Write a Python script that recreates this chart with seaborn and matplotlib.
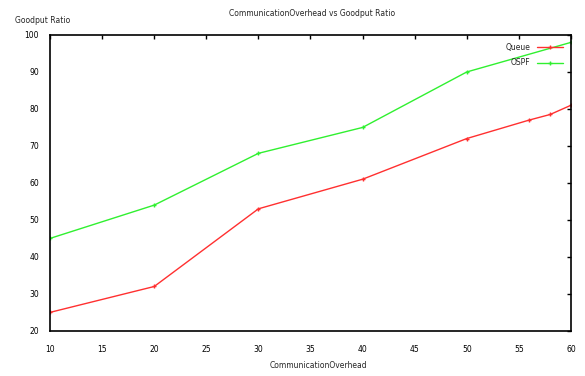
import pandas as pd
import matplotlib
matplotlib.use("Agg")
import matplotlib.pyplot as plt
import seaborn as sns

# data
queue_x = [10, 20, 30, 40, 50, 56, 58, 60]
queue_y = [25, 32, 53, 61, 72, 77, 78.5, 81]
ospf_x = [10, 20, 30, 40, 50, 60]
ospf_y = [45, 54, 68, 75, 90, 98]

df = pd.concat([
    pd.DataFrame({"overhead": queue_x, "ratio": queue_y, "series": "Queue"}),
    pd.DataFrame({"overhead": ospf_x, "ratio": ospf_y, "series": "OSPF"}),
])

sns.set_style("white")
plt.rcParams['font.family'] = ['DejaVu Sans']

fig = plt.figure(figsize=(5.85, 3.76), dpi=100)
ax = fig.add_axes([0.0855, 0.12, 0.8905, 0.787])

sns.lineplot(data=df, x="overhead", y="ratio", hue="series",
             palette={"Queue": "#ff3030", "OSPF": "#30f030"},
             marker="+", markersize=2.5, markeredgewidth=1, linewidth=1,
             estimator=None, sort=False, ax=ax)

ax.set_xlim(10, 60)
ax.set_ylim(20, 100)
ax.set_xticks(range(10, 61, 5))
ax.set_yticks(range(20, 101, 10))
ax.tick_params(direction="in", length=3, width=1, labelsize=5.5, colors="black",
               top=True, right=True, pad=8)
ax.tick_params(axis="x", pad=10)
for s in ax.spines.values():
    s.set_linewidth(1.2)
    s.set_color("black")

ax.set_xlabel("")
ax.set_ylabel("")
fig.text(0.545, 0.015, "CommunicationOverhead", fontsize=5.5, ha="center", va="bottom")
fig.text(0.026, 0.945, "Goodput Ratio", fontsize=5.5, ha="left", va="center")
fig.text(0.533, 0.965, "CommunicationOverhead vs Goodput Ratio", fontsize=5.5,
         ha="center", va="center")

leg = ax.legend(loc="upper right", frameon=False, markerfirst=False, fontsize=5.5,
                handlelength=3.5, borderaxespad=0.6, labelspacing=0.9)

# gnuplot style: markers in the line colour
for ln in list(ax.lines) + list(leg.get_lines()):
    ln.set_markeredgecolor(ln.get_color())

fig.savefig("out.png", dpi=100)
